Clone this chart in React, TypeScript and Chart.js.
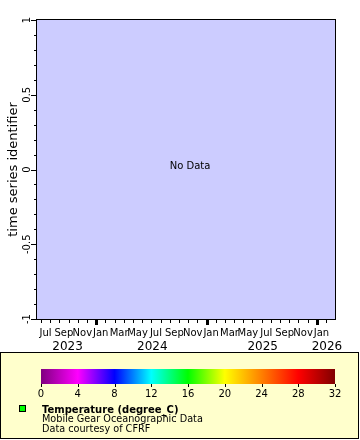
import React, { useEffect, useRef } from "react";
import { Chart, registerables } from "chart.js";

Chart.register(...registerables);

// ---- data (months counted from Jan 2023 = 0) ----
const xRange = [5.57, 37.97];
const monthTickPositions = [6, 7, 8, 9, 10, 11, 12, 13, 14, 15, 16, 17, 18, 19, 20, 21, 22, 23, 24, 25, 26, 27, 28, 29, 30, 31, 32, 33, 34, 35, 36, 37];
const monthLabels = ["Jul", "Sep", "Nov", "Jan", "Mar", "May", "Jul", "Sep", "Nov", "Jan", "Mar", "May", "Jul", "Sep", "Nov", "Jan"];
const monthLabelPositions = [6, 8, 10, 12, 14, 16, 18, 20, 22, 24, 26, 28, 30, 32, 34, 36];
const yearLabels = ["2023", "2024", "2025", "2026"];
const yearStarts = [0, 12, 24, 36];
const yRange = [-1, 1];
const yTickLabels = ["-1", "-0.5", "0", "0.5", "1"];
const yTickValues = [-1, -0.5, 0, 0.5, 1];
const yMinorStep = 0.1;
const seriesData: { x: number; y: number }[] = [];
const colorbarTicks = [0, 4, 8, 12, 16, 20, 24, 28, 32];
const colorbarColors = ["#800080", "#ff00ff", "#0000ff", "#00ffff", "#00ff00", "#ffff00", "#ff8000", "#ff0000", "#800000"];
const legendLines = ["Temperature (degree_C)", "Mobile Gear Oceanographic Data", "Data courtesy of CFRF"];
const yTitle = "time series identifier";
const noDataText = "No Data";

const FONT = "'DejaVu Sans', sans-serif";

const decorPlugin = {
  id: "decor",
  beforeDraw(chart: any) {
    const { ctx, chartArea } = chart;
    ctx.save();
    ctx.fillStyle = "#ffffff";
    ctx.fillRect(0, 0, chart.width, chart.height);
    ctx.fillStyle = "#ccccff";
    ctx.fillRect(chartArea.left, chartArea.top, chartArea.right - chartArea.left, chartArea.bottom - chartArea.top);
    ctx.restore();
  },
  afterDraw(chart: any) {
    const { ctx, chartArea } = chart;
    const xs = chart.scales.x;
    const ys = chart.scales.y;
    const L = chartArea.left, R = chartArea.right, T = chartArea.top, B = chartArea.bottom;
    ctx.save();
    // frame
    ctx.strokeStyle = "#000";
    ctx.lineWidth = 1;
    ctx.strokeRect(Math.round(L) - 0.5, Math.round(T) - 0.5, Math.round(R - L) + 1, Math.round(B - T) + 1);

    // y ticks
    for (let v = yRange[0]; v <= yRange[1] + 1e-9; v += yMinorStep) {
      const yy = Math.round(ys.getPixelForValue(v)) + 0.5;
      const major = yTickValues.some((t) => Math.abs(t - v) < 1e-6);
      ctx.beginPath();
      ctx.moveTo(L - 1, yy);
      ctx.lineTo(L - (major ? 6 : 3), yy);
      ctx.stroke();
    }
    // y labels (rotated)
    ctx.fillStyle = "#000";
    ctx.font = `10px ${FONT}`;
    ctx.textAlign = "center";
    ctx.textBaseline = "middle";
    yTickValues.forEach((v, i) => {
      const yy = ys.getPixelForValue(v);
      ctx.save();
      ctx.translate(L - 10, yy);
      ctx.rotate(-Math.PI / 2);
      ctx.fillText(yTickLabels[i], 0, 0);
      ctx.restore();
    });
    // y title
    ctx.save();
    ctx.font = `13px ${FONT}`;
    ctx.translate(14, (T + B) / 2);
    ctx.rotate(-Math.PI / 2);
    ctx.fillText(yTitle, 0, 0);
    ctx.restore();

    // x ticks
    monthTickPositions.forEach((m) => {
      const xx = Math.round(xs.getPixelForValue(m)) + 0.5;
      const jan = m % 12 === 0;
      ctx.lineWidth = jan ? 3 : 1;
      ctx.beginPath();
      ctx.moveTo(xx, B);
      ctx.lineTo(xx, B + (jan ? 6 : 4));
      ctx.stroke();
    });
    ctx.lineWidth = 1;
    // month labels
    ctx.font = `10px ${FONT}`;
    ctx.textAlign = "center";
    ctx.textBaseline = "middle";
    monthLabels.forEach((lab, i) => {
      ctx.fillText(lab, xs.getPixelForValue(monthLabelPositions[i] + 0.5), B + 14);
    });
    // year labels centred on visible part of each year
    ctx.font = `12px ${FONT}`;
    yearLabels.forEach((lab, i) => {
      const a = Math.max(xs.getPixelForValue(yearStarts[i]), L);
      const b = Math.min(xs.getPixelForValue(yearStarts[i] + 12), R);
      ctx.fillText(lab, (a + b) / 2 + 1, B + 28);
    });

    // No data
    ctx.font = `10px ${FONT}`;
    ctx.fillText(noDataText, (L + R) / 2 + 4, (T + B) / 2 - 3);

    // legend box
    const boxTop = 352, boxBottom = 438;
    ctx.fillStyle = "#ffffcc";
    ctx.fillRect(0.5, boxTop + 0.5, 358, boxBottom - boxTop);
    ctx.strokeStyle = "#000";
    ctx.strokeRect(0.5, boxTop + 0.5, 358, boxBottom - boxTop);

    // colorbar
    const cbL = 41, cbR = 335, cbT = 369, cbB = 384;
    const cmin = colorbarTicks[0], cmax = colorbarTicks[colorbarTicks.length - 1];
    const cx = (v: number) => cbL + ((v - cmin) / (cmax - cmin)) * (cbR - cbL);
    const grad = ctx.createLinearGradient(cbL, 0, cbR, 0);
    colorbarColors.forEach((c, i) => grad.addColorStop(i / (colorbarColors.length - 1), c));
    ctx.fillStyle = grad;
    ctx.fillRect(cbL, cbT, cbR - cbL, cbB - cbT);
    ctx.fillStyle = "#000";
    ctx.font = `10px ${FONT}`;
    colorbarTicks.forEach((v) => {
      const xx = Math.round(cx(v)) + 0.5;
      ctx.beginPath();
      ctx.moveTo(xx, cbB);
      ctx.lineTo(xx, cbB + 3);
      ctx.stroke();
      ctx.fillText(String(v), cx(v), cbB + 10);
    });

    // legend marker + text
    ctx.fillStyle = "#00ff00";
    ctx.fillRect(19.5, 405.5, 6, 6);
    ctx.strokeRect(19.5, 405.5, 6, 6);
    ctx.fillStyle = "#000";
    ctx.textAlign = "left";
    ctx.textBaseline = "alphabetic";
    ctx.font = `bold 10px ${FONT}`;
    ctx.fillText(legendLines[0], 42, 413);
    ctx.font = `9.7px ${FONT}`;
    ctx.fillText(legendLines[1], 42, 422);
    ctx.fillText(legendLines[2], 42, 432);
    ctx.restore();
  },
};

export default function App() {
  const ref = useRef<HTMLCanvasElement>(null);
  useEffect(() => {
    document.body.style.margin = "0";
    const chart = new Chart(ref.current!, {
      type: "scatter",
      data: {
        datasets: [
          {
            label: legendLines[0],
            data: seriesData,
            backgroundColor: "#00ff00",
            borderColor: "#000",
          },
        ],
      },
      options: {
        responsive: false,
        animation: false,
        devicePixelRatio: 1,
        layout: { padding: { top: 20, right: 25, left: 0, bottom: 0 } },
        plugins: { legend: { display: false }, tooltip: { enabled: false } },
        scales: {
          x: {
            type: "linear",
            min: xRange[0],
            max: xRange[1],
            ticks: { display: false },
            grid: { display: false },
            border: { display: false },
            afterFit: (s: any) => {
              s.height = 121;
            },
          },
          y: {
            type: "linear",
            min: yRange[0],
            max: yRange[1],
            ticks: { display: false },
            grid: { display: false },
            border: { display: false },
            afterFit: (s: any) => {
              s.width = 37;
            },
          },
        },
      },
      plugins: [decorPlugin],
    });
    return () => chart.destroy();
  }, []);
  return <canvas ref={ref} width={360} height={440} style={{ display: "block" }} />;
}
